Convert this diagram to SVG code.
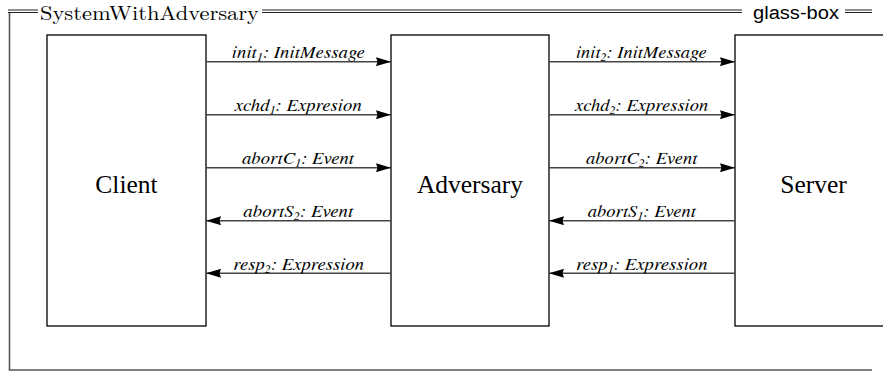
<svg xmlns="http://www.w3.org/2000/svg" width="883" height="372" viewBox="0 0 883 372">
<style>
.box{fill:#fff;stroke:#000;stroke-width:1.3}
.node{font-family:"Liberation Serif","Times New Roman",serif;font-size:25.5px;fill:#000;text-anchor:middle}
.lbl{font-family:"TeX Gyre Termes","Nimbus Roman","Nimbus Roman No9 L","Liberation Serif","Times New Roman",serif;font-style:italic;font-size:17px;fill:#000;text-anchor:middle}
.sub{font-size:11px}
.conn{stroke:#444;stroke-width:1.4;fill:none}
.frame{stroke:#555;stroke-width:1.6;fill:none}
.dbl{stroke:#222;stroke-width:1;fill:none}
</style>
<defs>
<marker id="ah" viewBox="0 0 15 9" refX="15" refY="4.5" markerWidth="15" markerHeight="9" markerUnits="userSpaceOnUse" orient="auto">
<path d="M0,0 L15,4.5 L0,9 L1.5,4.5 Z" fill="#000"/>
</marker>
</defs>
<g id="frame">
<path class="frame" d="M9.5,12.5 V370 H872"/>
<path class="dbl" d="M8,10 H38 M8,12.5 H38 M262,10 H742 M262,12.5 H742 M845,10 H872 M845,12.5 H872"/>
<text x="40" y="20" font-family="'Latin Modern Roman','Liberation Serif',serif" font-size="19.5" textLength="219" lengthAdjust="spacingAndGlyphs">SystemWithAdversary</text>
<text x="753" y="18.5" font-family="'Liberation Sans',Arial,sans-serif" font-size="18" textLength="86" lengthAdjust="spacingAndGlyphs">glass-box</text>
</g>
<g id="client">
<rect class="box" x="47" y="35" width="159" height="291"/>
<text class="node" x="126.5" y="193">Client</text>
</g>
<g id="adversary">
<rect class="box" x="391" y="35" width="158" height="291"/>
<text class="node" x="470" y="193">Adversary</text>
</g>
<g id="server">
<rect class="box" x="735" y="35" width="160" height="291"/>
<text class="node" x="813.5" y="193">Server</text>
</g>
<g id="connectors">
<line class="conn" x1="206" y1="61.7" x2="391" y2="61.7" marker-end="url(#ah)"/>
<line class="conn" x1="206" y1="114.7" x2="391" y2="114.7" marker-end="url(#ah)"/>
<line class="conn" x1="206" y1="167.7" x2="391" y2="167.7" marker-end="url(#ah)"/>
<line class="conn" x1="391" y1="220.7" x2="206" y2="220.7" marker-end="url(#ah)"/>
<line class="conn" x1="391" y1="273.3" x2="206" y2="273.3" marker-end="url(#ah)"/>
<line class="conn" x1="549" y1="61.7" x2="735" y2="61.7" marker-end="url(#ah)"/>
<line class="conn" x1="549" y1="114.7" x2="735" y2="114.7" marker-end="url(#ah)"/>
<line class="conn" x1="549" y1="167.7" x2="735" y2="167.7" marker-end="url(#ah)"/>
<line class="conn" x1="735" y1="220.7" x2="549" y2="220.7" marker-end="url(#ah)"/>
<line class="conn" x1="735" y1="273.3" x2="549" y2="273.3" marker-end="url(#ah)"/>
<text class="lbl" x="298.3" y="58" textLength="133" lengthAdjust="spacingAndGlyphs">init<tspan class="sub" dy="3">1</tspan><tspan dy="-3">: InitMessage</tspan></text>
<text class="lbl" x="298.3" y="111" textLength="127" lengthAdjust="spacingAndGlyphs">xchd<tspan class="sub" dy="3">1</tspan><tspan dy="-3">: Expresion</tspan></text>
<text class="lbl" x="298" y="164" textLength="112" lengthAdjust="spacingAndGlyphs">abortC<tspan class="sub" dy="3">1</tspan><tspan dy="-3">: Event</tspan></text>
<text class="lbl" x="298.3" y="217" textLength="110" lengthAdjust="spacingAndGlyphs">abortS<tspan class="sub" dy="3">2</tspan><tspan dy="-3">: Event</tspan></text>
<text class="lbl" x="298.7" y="269.5" textLength="130.7" lengthAdjust="spacingAndGlyphs">resp<tspan class="sub" dy="3">2</tspan><tspan dy="-3">: Expression</tspan></text>
<text class="lbl" x="641.3" y="58" textLength="130.7" lengthAdjust="spacingAndGlyphs">init<tspan class="sub" dy="3">2</tspan><tspan dy="-3">: InitMessage</tspan></text>
<text class="lbl" x="641.7" y="111" textLength="133.3" lengthAdjust="spacingAndGlyphs">xchd<tspan class="sub" dy="3">2</tspan><tspan dy="-3">: Expression</tspan></text>
<text class="lbl" x="641.7" y="164" textLength="111.3" lengthAdjust="spacingAndGlyphs">abortC<tspan class="sub" dy="3">2</tspan><tspan dy="-3">: Event</tspan></text>
<text class="lbl" x="641.8" y="217" textLength="108.3" lengthAdjust="spacingAndGlyphs">abortS<tspan class="sub" dy="3">1</tspan><tspan dy="-3">: Event</tspan></text>
<text class="lbl" x="641.8" y="269.5" textLength="131.7" lengthAdjust="spacingAndGlyphs">resp<tspan class="sub" dy="3">1</tspan><tspan dy="-3">: Expression</tspan></text>
</g>
</svg>
